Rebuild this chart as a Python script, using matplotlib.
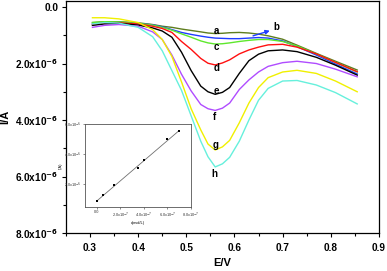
import numpy as np
import matplotlib.pyplot as plt
from matplotlib.ticker import MultipleLocator, FixedLocator

plt.rcParams['font.family'] = ['Liberation Sans', 'DejaVu Sans']

# potential (V)
E = [0.305, 0.33, 0.36, 0.40, 0.43, 0.45, 0.47, 0.49, 0.51, 0.53, 0.545, 0.56,
     0.575, 0.59, 0.61, 0.63, 0.65, 0.67, 0.70, 0.73, 0.77, 0.81, 0.855]

# currents in units of 1e-6 A
I_a = [0.55, 0.52, 0.52, 0.56, 0.62, 0.68, 0.72, 0.78, 0.83, 0.88, 0.92, 0.94,
       0.93, 0.91, 0.90, 0.92, 0.96, 1.02, 1.14, 1.35, 1.64, 1.92, 2.23]
I_b = [0.60, 0.55, 0.55, 0.58, 0.63, 0.70, 0.80, 0.90, 0.97, 1.03, 1.07, 1.10,
       1.11, 1.12, 1.12, 1.10, 1.08, 1.10, 1.20, 1.40, 1.70, 2.02, 2.37]
I_c = [0.55, 0.52, 0.53, 0.58, 0.64, 0.72, 0.82, 0.95, 1.07, 1.20, 1.27, 1.31,
       1.30, 1.27, 1.22, 1.18, 1.15, 1.15, 1.22, 1.38, 1.66, 1.96, 2.30]
I_d = [0.62, 0.57, 0.56, 0.60, 0.68, 0.76, 0.90, 1.22, 1.50, 1.82, 1.99, 2.05,
       1.98, 1.87, 1.66, 1.52, 1.42, 1.34, 1.32, 1.42, 1.66, 1.96, 2.29]
I_e = [0.65, 0.60, 0.58, 0.64, 0.74, 0.85, 1.07, 1.60, 2.25, 2.80, 3.00, 3.09,
       3.02, 2.85, 2.35, 1.90, 1.67, 1.55, 1.52, 1.58, 1.78, 2.06, 2.41]
I_f = [0.72, 0.65, 0.62, 0.68, 0.88, 1.15, 1.70, 2.38, 2.97, 3.45, 3.60, 3.66,
       3.58, 3.40, 2.92, 2.58, 2.30, 2.10, 1.97, 1.92, 2.00, 2.20, 2.47]
I_g = [0.38, 0.38, 0.42, 0.55, 0.80, 1.15, 1.75, 2.65, 3.60, 4.35, 4.85, 5.06,
       4.95, 4.72, 4.10, 3.40, 2.85, 2.50, 2.30, 2.24, 2.35, 2.62, 3.00]
I_h = [0.60, 0.55, 0.57, 0.72, 1.05, 1.55, 2.25, 2.95, 3.85, 4.75, 5.30, 5.66,
       5.55, 5.32, 4.75, 4.00, 3.30, 2.88, 2.62, 2.60, 2.76, 3.03, 3.43]

curves = [I_a, I_b, I_c, I_d, I_e, I_f, I_g, I_h]
names = ['a', 'b', 'c', 'd', 'e', 'f', 'g', 'h']
colors = ['#5e7d1e', '#1f3cff', '#5ee82c', '#ff1010', '#000000',
          '#b04cff', '#f0f000', '#66f0dc']
label_pos = [(0.5625, 0.84), (0.686, 0.72), (0.5625, 1.42), (0.5625, 2.17),
             (0.5615, 2.96), (0.5575, 3.90), (0.5615, 4.88), (0.558, 5.90)]

# inset: concentration (1e-7 mol/L) vs peak current (1e-6 A)
conc = [0.0, 0.5, 1.5, 3.5, 4.0, 6.0, 7.0]
ipk = [0.85, 1.24, 1.90, 3.03, 3.60, 4.97, 5.55]

fig = plt.figure(figsize=(3.87, 2.71), dpi=100)
ax = fig.add_axes([0.1705, 0.140, 0.8085, 0.855])

for y, c in zip(curves, colors):
    ax.plot(E, np.array(y) * 1e-6, color=c, lw=1.0)

for n, (lx, ly) in zip(names, label_pos):
    ax.text(lx, ly * 1e-6, n, fontsize=7, fontweight='bold',
            ha='center', va='center')

ax.annotate('', xy=(0.679, 0.81e-6), xytext=(0.633, 1.05e-6),
            arrowprops=dict(arrowstyle='-|>', color='#1f3cff', lw=1.0,
                            mutation_scale=6))

ax.set_xlim(0.25, 0.9)
ax.set_ylim(8e-6, -0.2e-6)
ax.xaxis.set_major_locator(FixedLocator([0.3, 0.4, 0.5, 0.6, 0.7, 0.8, 0.9]))
ax.xaxis.set_minor_locator(MultipleLocator(0.05))
yt = [0, 2e-6, 4e-6, 6e-6, 8e-6]
ax.set_yticks(yt)
ax.set_yticklabels(['0.0'] + [r'%.1fx10$^{\mathbf{-6}}$' % (v * 1e6) for v in yt[1:]])
ax.yaxis.set_minor_locator(MultipleLocator(1e-6))
ax.tick_params(which='both', direction='out', labelsize=7.2, width=0.8)
ax.tick_params(which='major', length=3)
ax.tick_params(which='minor', length=2)
ax.tick_params(axis='x', pad=4)
ax.tick_params(axis='y', pad=2.5)
for lab in ax.get_xticklabels() + ax.get_yticklabels():
    lab.set_fontweight('bold')
ax.set_xlabel('E/V', fontsize=8, fontweight='bold', labelpad=4)
ax.set_ylabel('I/A', fontsize=8, fontweight='bold')
ax.yaxis.set_label_coords(-0.178, 0.5)
for s in ax.spines.values():
    s.set_linewidth(0.9)

# inset
ins = fig.add_axes([0.2196, 0.2362, 0.2739, 0.3062])
fit = np.polyfit(conc, ipk, 1)
xs = np.array([conc[0], conc[-1]])
ins.plot(xs * 1e-7, np.polyval(fit, xs) * 1e-6, color='#707070', lw=0.6)
ins.plot(np.array(conc) * 1e-7, np.array(ipk) * 1e-6, 's', color='black',
         ms=1.6, mew=0)
ins.set_xlim(-1e-7, 8e-7)
ins.set_ylim(0.46e-6, 6e-6)
ins.set_xticks([0, 2e-7, 4e-7, 6e-7, 8e-7])
ins.set_xticklabels(['0.0'] + [r'%.1fx10$^{-7}$' % v for v in [2, 4, 6, 8]])
ins.set_yticks([2e-6, 4e-6, 6e-6])
ins.set_yticklabels([r'%.1fx10$^{-6}$' % v for v in [2, 4, 6]])
ins.tick_params(labelsize=2.8, length=1.5, width=0.4, pad=1, colors='#333333')
ins.set_xlabel('c(mol/L)', fontsize=2.8, labelpad=1)
ins.set_ylabel('I(A)', fontsize=2.8, labelpad=1)
for s in ins.spines.values():
    s.set_linewidth(0.6)
    s.set_color('#555555')

fig.savefig('out.png', dpi=100)
